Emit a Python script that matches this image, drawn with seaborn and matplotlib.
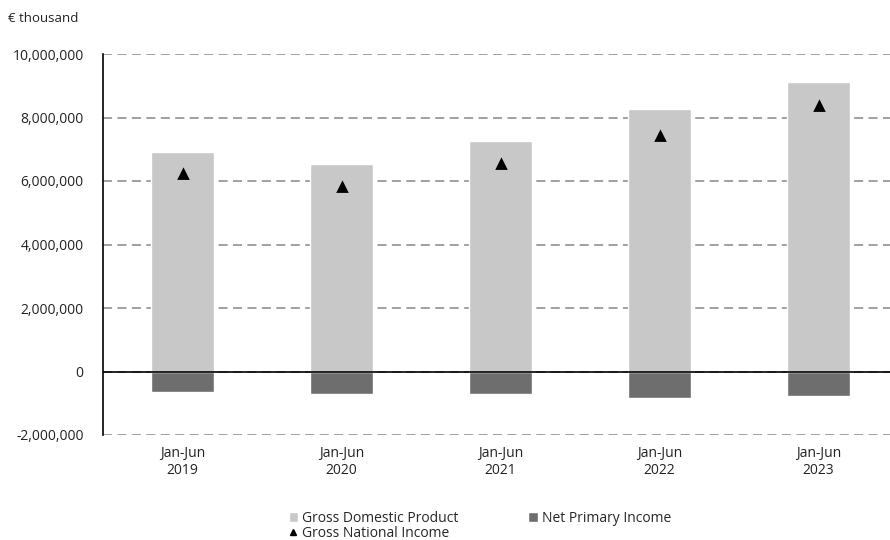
import numpy as np
import pandas as pd
import matplotlib.pyplot as plt
import seaborn as sns
from matplotlib.patches import Patch
from matplotlib.lines import Line2D
from matplotlib.ticker import FuncFormatter

periods = ['Jan-Jun\n2019', 'Jan-Jun\n2020', 'Jan-Jun\n2021', 'Jan-Jun\n2022', 'Jan-Jun\n2023']
gdp = [6900000, 6520000, 7260000, 8260000, 9120000]
npi = [-650000, -700000, -720000, -830000, -760000]
gni = [6230000, 5800000, 6520000, 7420000, 8360000]

sns.set_style('white')
plt.rcParams['font.family'] = ['Open Sans', 'DejaVu Sans']

fig = plt.figure(figsize=(8.9, 5.4), dpi=100)
ax = fig.add_axes([103 / 890, 1 - 435 / 540, 795 / 890, 381 / 540])

gdp_c = '#c8c8c8'
npi_c = '#6e6e6e'

sns.barplot(x=periods, y=gdp, color=gdp_c, width=0.4, ax=ax, zorder=2)
sns.barplot(x=periods, y=npi, color=npi_c, width=0.4, ax=ax, zorder=2)
sns.pointplot(x=periods, y=gni, color='black', linestyle='none', marker='^',
              markersize=6, errorbar=None, ax=ax, zorder=4)

ax.set_ylim(-2000000, 10000000)
ax.set_xlim(-0.5, 4.5)
ax.set_yticks(np.arange(-2000000, 10000001, 2000000))
ax.yaxis.set_major_formatter(FuncFormatter(lambda v, p: f'{int(v):,}'))
ax.set_axisbelow(True)
ax.yaxis.grid(True, color='#999999', linestyle=(0, (5, 3)), linewidth=1.3)
ax.axhline(0, color='black', linewidth=1.2, zorder=3)

for s in ['top', 'right', 'bottom']:
    ax.spines[s].set_visible(False)
ax.spines['left'].set_color('black')
ax.spines['left'].set_linewidth(1.2)
ax.tick_params(axis='both', length=0, labelsize=10, colors='#222222')
ax.tick_params(axis='x', pad=8)
ax.tick_params(axis='y', pad=14)
ax.set_xlabel('')
ax.set_ylabel('')

fig.text(8 / 890, 1 - 18 / 540, '€ thousand', fontsize=9.5, va='center', color='#222222')

handles = [
    Patch(facecolor=gdp_c, label='Gross Domestic Product'),
    Line2D([], [], marker='^', color='black', linestyle='none', markersize=5,
           label='Gross National Income'),
    Patch(facecolor=npi_c, label='Net Primary Income'),
]
fig.legend(handles=handles, loc='upper center', bbox_to_anchor=(480 / 890, 1 - 501 / 540),
           ncol=2, frameon=False, fontsize=10, handlelength=0.7, handleheight=0.7,
           handletextpad=0.3, columnspacing=5.0, labelspacing=0.0, borderpad=0.2)

fig.savefig('out.png', dpi=100)
